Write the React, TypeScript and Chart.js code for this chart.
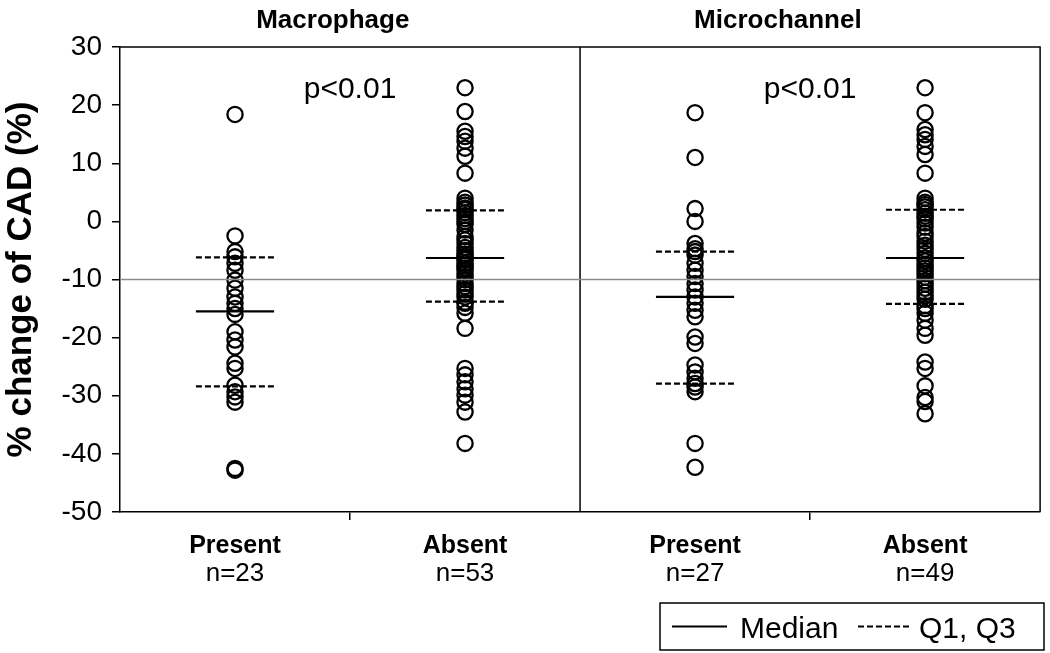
import React, { useEffect, useRef } from "react";
import { Chart, registerables } from "chart.js";
Chart.register(...registerables);

// ---------- data ----------
const panelTitles = ["Macrophage", "Microchannel"];
const panelPValues = ["p<0.01", "p<0.01"];
const groupNames = ["Present", "Absent", "Present", "Absent"];
const groupCounts = ["n=23", "n=53", "n=27", "n=49"];
const groupX = [1, 3, 5, 7];
const panelCenters = [2, 6];
const panelTitleX = [1.85, 5.72];
const panelDivider = 4;

const macrophagePresent = [
  18.4, -2.5, -5.2, -6.1, -7.2, -8.4, -10.1, -11.5, -13.0, -14.1, -15.0, -16.0,
  -19.0, -20.4, -21.6, -24.4, -25.3, -28.2, -29.3, -30.2, -31.1, -42.5, -42.8,
];
const macrophageAbsent = [
  23.0, 18.9, 15.5, 14.6, 13.8, 12.6, 11.2, 8.3,
  4.0, 3.3, 2.8, 2.3, 2.0,
  1.5, 1.0, 0.5, 0.0, -0.5, -1.5, -2.6, -3.2, -3.8, -4.5, -5.0, -5.6, -6.0,
  -6.3,
  -6.6, -7.2, -7.6, -8.0, -8.4, -9.0, -9.5, -10.0, -10.7, -11.2, -11.8, -12.4, -13.0,
  -13.9, -14.1, -14.8, -15.8, -18.4,
  -25.3, -26.4, -27.6, -28.8, -29.9, -31.1, -32.8, -38.2,
];
const microchannelPresent = [
  18.7, 11.0, 2.2, 0.0, -3.8, -4.7, -5.2, -5.8, -7.2, -8.4, -9.5, -10.7, -11.8,
  -13.0, -14.1, -15.3, -16.4, -19.9, -21.0, -24.7, -25.9, -27.0, -27.9, -28.5,
  -29.3, -38.2, -42.3,
];
const microchannelAbsent = [
  23.0, 18.7, 15.8, 14.9, 14.1, 12.9, 11.5, 8.3,
  4.0, 3.3, 2.9, 2.5, 2.0, 1.4, 0.9, 0.4, -0.3, -1.0, -2.0, -2.6, -3.4, -4.1, -4.8, -5.5,
  -6.3,
  -6.8, -7.4, -8.0, -8.5, -9.0, -9.6, -10.2, -10.8, -11.5, -12.2, -12.8, -13.4,
  -14.5, -15.0, -15.8, -17.0, -18.4, -19.6,
  -24.2, -25.3, -28.3, -30.3, -31.0, -33.1,
];
const groupValues = [macrophagePresent, macrophageAbsent, microchannelPresent, microchannelAbsent];

const medians = [-15.5, -6.3, -13.0, -6.3];
const quartile1 = [-28.4, -13.8, -27.9, -14.2];
const quartile3 = [-6.2, 1.9, -5.2, 2.0];
const referenceValue = -10;
const yMin = -50;
const yMax = 30;
const yStep = 10;
const xMin = 0;
const xMax = 8;
const xTickValues = [2, 6];
const lineHalfWidth = 0.34;
const legendLabels = ["Median", "Q1, Q3"];
const yAxisTitle = "% change of CAD (%)";

const FONT = "'Liberation Sans', Arial, sans-serif";

export default function App() {
  const ref = useRef<HTMLCanvasElement | null>(null);

  useEffect(() => {
    document.body.style.margin = "0";
    const canvas = ref.current;
    if (!canvas) return;

    const datasets: any[] = [];
    datasets.push({
      type: "line",
      data: [{ x: xMin, y: referenceValue }, { x: xMax, y: referenceValue }],
      borderColor: "#8c8c8c",
      borderWidth: 1.5,
      pointRadius: 0,
      showLine: true,
    });
    datasets.push({
      type: "line",
      data: [{ x: panelDivider, y: yMin }, { x: panelDivider, y: yMax }],
      borderColor: "#000",
      borderWidth: 1.5,
      pointRadius: 0,
      showLine: true,
    });
    groupValues.forEach((vals, i) => {
      datasets.push({
        type: "scatter",
        data: vals.map((v) => ({ x: groupX[i], y: v })),
        pointStyle: "circle",
        pointRadius: 7.6,
        pointBorderWidth: 2.3,
        borderColor: "#000",
        pointBorderColor: "#000",
        backgroundColor: "rgba(0,0,0,0)",
        pointBackgroundColor: "rgba(0,0,0,0)",
        showLine: false,
      });
      datasets.push({
        type: "line",
        data: [
          { x: groupX[i] - lineHalfWidth, y: medians[i] },
          { x: groupX[i] + lineHalfWidth, y: medians[i] },
        ],
        borderColor: "#000",
        borderWidth: 2.2,
        pointRadius: 0,
        showLine: true,
      });
      [quartile1[i], quartile3[i]].forEach((q) => {
        datasets.push({
          type: "line",
          data: [
            { x: groupX[i] - lineHalfWidth, y: q },
            { x: groupX[i] + lineHalfWidth, y: q },
          ],
          borderColor: "#000",
          borderWidth: 2.2,
          borderDash: [6, 3],
          pointRadius: 0,
          showLine: true,
        });
      });
    });

    const decor = {
      id: "decor",
      afterDraw(chart: any) {
        const ctx = chart.ctx as CanvasRenderingContext2D;
        const ca = chart.chartArea;
        const xs = chart.scales.x;
        ctx.save();
        ctx.strokeStyle = "#000";
        ctx.lineWidth = 1.5;
        ctx.beginPath();
        ctx.moveTo(ca.left, ca.top);
        ctx.lineTo(ca.right, ca.top);
        ctx.lineTo(ca.right, ca.bottom);
        ctx.stroke();

        ctx.fillStyle = "#000";
        ctx.textAlign = "center";
        ctx.textBaseline = "alphabetic";
        ctx.font = `bold 26px ${FONT}`;
        panelTitles.forEach((t, i) => {
          ctx.fillText(t, xs.getPixelForValue(panelTitleX[i]), 28);
        });
        ctx.font = `30px ${FONT}`;
        panelPValues.forEach((t, i) => {
          ctx.fillText(t, xs.getPixelForValue(panelCenters[i]), 98);
        });
        groupNames.forEach((g, i) => {
          const px = xs.getPixelForValue(groupX[i]);
          ctx.font = `bold 25px ${FONT}`;
          ctx.fillText(g, px, 553);
          ctx.font = `26px ${FONT}`;
          ctx.fillText(groupCounts[i], px, 581);
        });
        const lx = 660, ly = 603, lw = 384, lh = 47;
        ctx.lineWidth = 1.5;
        ctx.strokeRect(lx, ly, lw, lh);
        const my = ly + lh / 2;
        ctx.lineWidth = 2;
        ctx.beginPath();
        ctx.moveTo(672, my);
        ctx.lineTo(727, my);
        ctx.stroke();
        ctx.setLineDash([6, 3]);
        ctx.beginPath();
        ctx.moveTo(858, my);
        ctx.lineTo(912, my);
        ctx.stroke();
        ctx.setLineDash([]);
        ctx.textAlign = "left";
        ctx.font = `30px ${FONT}`;
        ctx.fillText(legendLabels[0], 740, my + 11);
        ctx.fillText(legendLabels[1], 919, my + 11);
        ctx.restore();
      },
    };

    const chart = new Chart(canvas, {
      type: "scatter",
      data: { datasets },
      options: {
        animation: false,
        responsive: false,
        maintainAspectRatio: false,
        layout: { padding: { left: 0, right: 3, top: 47, bottom: 0 } },
        plugins: {
          legend: { display: false },
          tooltip: { enabled: false },
          title: { display: false },
        },
        scales: {
          x: {
            type: "linear",
            min: xMin,
            max: xMax,
            afterBuildTicks: (s: any) => {
              s.ticks = xTickValues.map((v) => ({ value: v }));
            },
            afterFit: (s: any) => {
              s.height = 141;
            },
            ticks: { callback: () => "", display: true },
            grid: {
              display: true,
              drawOnChartArea: false,
              drawTicks: true,
              tickLength: 8,
              color: "#000",
              lineWidth: 1.5,
            },
            border: { display: true, color: "#000", width: 1.5 },
          },
          y: {
            type: "linear",
            min: yMin,
            max: yMax,
            afterFit: (s: any) => {
              s.width = 120;
            },
            ticks: {
              stepSize: yStep,
              color: "#000",
              font: { family: FONT, size: 28 },
              padding: 10,
            },
            grid: {
              display: true,
              drawOnChartArea: false,
              drawTicks: true,
              tickLength: 8,
              color: "#000",
              lineWidth: 1.5,
            },
            border: { display: true, color: "#000", width: 1.5 },
            title: {
              display: true,
              text: yAxisTitle,
              color: "#000",
              font: { family: FONT, size: 35, weight: "bold" },
              padding: { top: 0, bottom: 0 },
            },
          },
        },
      },
      plugins: [decor],
    } as any);

    return () => chart.destroy();
  }, []);

  return <canvas ref={ref} width={1050} height={653} style={{ display: "block" }} />;
}
